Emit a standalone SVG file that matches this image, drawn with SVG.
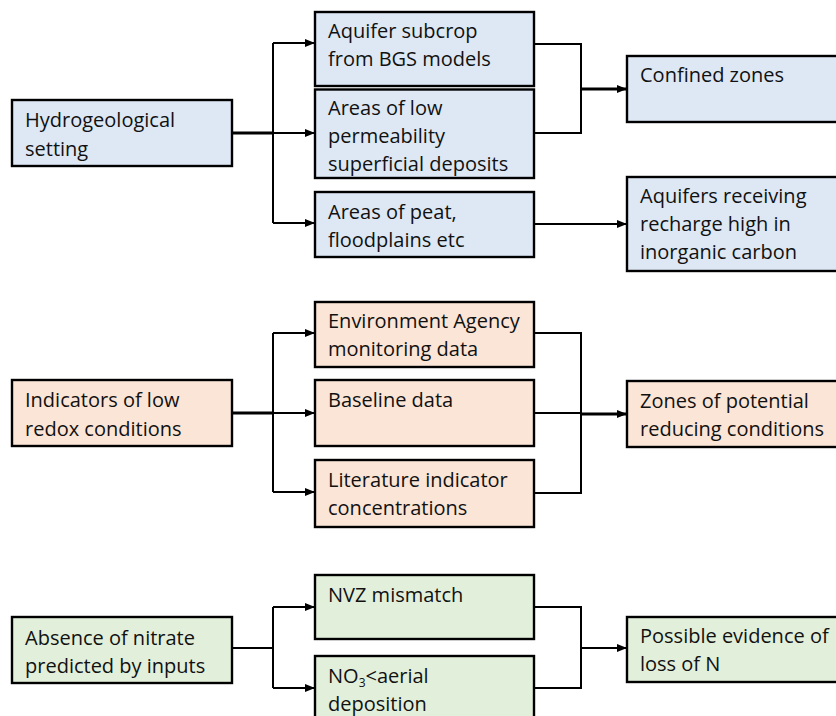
<svg xmlns="http://www.w3.org/2000/svg" width="836" height="716" viewBox="0 0 836 716">
<style>
.box{stroke:#000;stroke-width:2.4}
.b{fill:#dde8f4}
.o{fill:#fbe5d6}
.g{fill:#e2efda}
text{font-family:"Open Sans","Liberation Sans",sans-serif;font-size:20px;fill:#111}
.c{fill:none;stroke:#000;stroke-width:2}
.m{fill:none;stroke:#000;stroke-width:2.8}
</style>
<defs>
<marker id="ah" markerUnits="userSpaceOnUse" markerWidth="10" markerHeight="10" refX="10" refY="5" orient="auto">
<path d="M0,1 L10,5 L0,9 z" fill="#000"/>
</marker>
</defs>
<rect width="836" height="716" fill="#fff"/>
<g id="connectors">
<path class="m" d="M232,133 H273"/>
<path class="c" d="M273,43 V223"/>
<path class="c" d="M273,43 H315" marker-end="url(#ah)"/>
<path class="c" d="M273,133 H315" marker-end="url(#ah)"/>
<path class="c" d="M273,223 H315" marker-end="url(#ah)"/>
<path class="c" d="M534,44 H581 V133 H534"/>
<path class="m" d="M581,89 H627" marker-end="url(#ah)"/>
<path class="c" d="M534,224 H627" marker-end="url(#ah)"/>

<path class="m" d="M232,413 H273"/>
<path class="c" d="M273,333 V492"/>
<path class="c" d="M273,333 H315" marker-end="url(#ah)"/>
<path class="c" d="M273,413 H315" marker-end="url(#ah)"/>
<path class="c" d="M273,492 H315" marker-end="url(#ah)"/>
<path class="c" d="M534,333 H581 V493 H534"/>
<path class="c" d="M534,413 H581"/>
<path class="m" d="M581,414 H627" marker-end="url(#ah)"/>

<path class="c" d="M232,648 H273"/>
<path class="c" d="M273,607 V688"/>
<path class="c" d="M273,607 H315" marker-end="url(#ah)"/>
<path class="c" d="M273,688 H315" marker-end="url(#ah)"/>
<path class="c" d="M534,607 H581 V688 H534"/>
<path class="c" d="M581,648 H627" marker-end="url(#ah)"/>
</g>

<g id="hydro"><rect class="box b" x="12" y="100" width="220" height="66"/><text x="25" y="127">Hydrogeological</text><text x="25" y="156">setting</text></g>
<g id="subcrop"><rect class="box b" x="315" y="12" width="219" height="74"/><text x="328" y="38">Aquifer subcrop</text><text x="328" y="66">from BGS models</text></g>
<g id="lowperm"><rect class="box b" x="315" y="89.5" width="219" height="88.5"/><text x="328" y="115">Areas of low</text><text x="328" y="143">permeability</text><text x="328" y="171">superficial deposits</text></g>
<g id="peat"><rect class="box b" x="315" y="192" width="219" height="65"/><text x="328" y="219">Areas of peat,</text><text x="328" y="247">floodplains etc</text></g>
<g id="confined"><rect class="box b" x="627" y="56" width="212" height="66"/><text x="640" y="82">Confined zones</text></g>
<g id="recharge"><rect class="box b" x="627" y="177" width="212" height="94"/><text x="640" y="203">Aquifers receiving</text><text x="640" y="231">recharge high in</text><text x="640" y="259">inorganic carbon</text></g>

<g id="indicators"><rect class="box o" x="12" y="380" width="220" height="66"/><text x="25" y="407">Indicators of low</text><text x="25" y="436">redox conditions</text></g>
<g id="ea"><rect class="box o" x="315" y="302" width="219" height="65"/><text x="328" y="328">Environment Agency</text><text x="328" y="356">monitoring data</text></g>
<g id="baseline"><rect class="box o" x="315" y="380" width="219" height="66"/><text x="328" y="407">Baseline data</text></g>
<g id="literature"><rect class="box o" x="315" y="460" width="219" height="67"/><text x="328" y="487">Literature indicator</text><text x="328" y="515">concentrations</text></g>
<g id="zones"><rect class="box o" x="627" y="381" width="212" height="66"/><text x="640" y="408">Zones of potential</text><text x="640" y="436">reducing conditions</text></g>

<g id="absence"><rect class="box g" x="12" y="617" width="220" height="66"/><text x="25" y="645">Absence of nitrate</text><text x="25" y="673">predicted by inputs</text></g>
<g id="nvz"><rect class="box g" x="315" y="575" width="219" height="64"/><text x="328" y="602">NVZ mismatch</text></g>
<g id="no3"><rect class="box g" x="315" y="656" width="219" height="70"/><text x="328" y="683">NO<tspan font-size="12" dy="4">3</tspan><tspan dy="-4">&lt;aerial</tspan></text><text x="328" y="711">deposition</text></g>
<g id="lossn"><rect class="box g" x="627" y="617" width="212" height="65"/><text x="640" y="643">Possible evidence of</text><text x="640" y="671">loss of N</text></g>
</svg>
